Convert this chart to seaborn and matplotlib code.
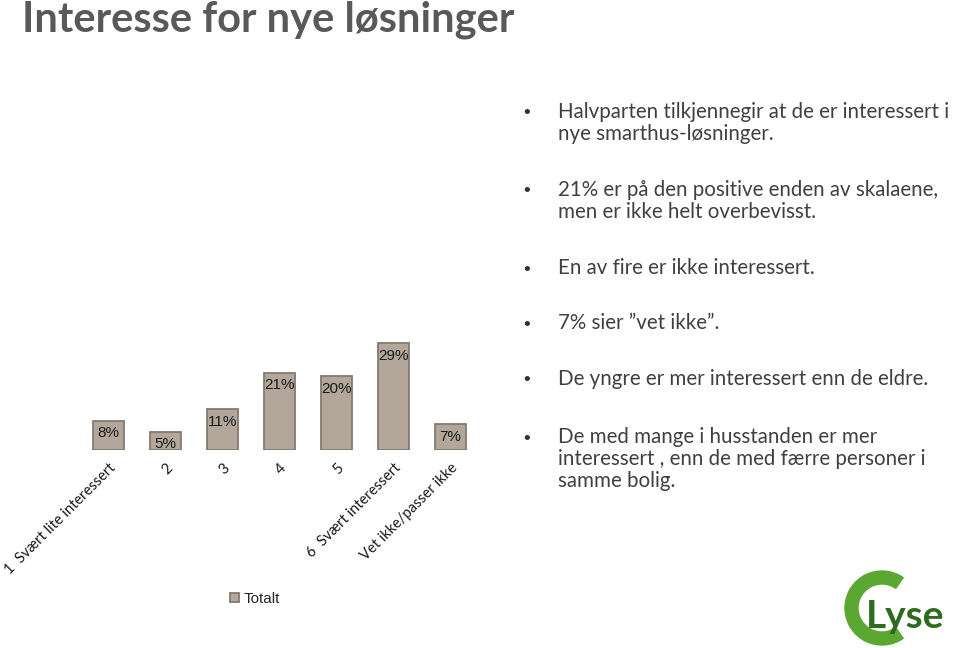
import matplotlib
matplotlib.use("Agg")
import matplotlib.pyplot as plt
from matplotlib.patches import Wedge
import seaborn as sns
import pandas as pd

categories = ["1  Svært lite interessert", "2", "3", "4", "5",
              "6  Svært interessert", "Vet ikke/passer ikke"]
values = [8, 5, 11, 21, 20, 29, 7]
series_name = "Totalt"
title = "Interesse for nye løsninger"
bullets = [
    "Halvparten tilkjennegir at de er interessert i\nnye smarthus-løsninger.",
    "21% er på den positive enden av skalaene,\nmen er ikke helt overbevisst.",
    "En av fire er ikke interessert.",
    "7% sier \u201dvet ikke\u201d.",
    "De yngre er mer interessert enn de eldre.",
    "De med mange i husstanden er mer\ninteressert , enn de med færre personer i\nsamme bolig.",
]
bullet_y = [114, 192, 270, 325, 381, 439]

sns.set_style("white")
plt.rcParams["font.family"] = ["Liberation Sans", "DejaVu Sans"]

frame = pd.DataFrame({"cat": categories, "val": values})

fig = plt.figure(figsize=(9.6, 6.48), dpi=100)
W, H = 960, 648
ax = fig.add_axes([80 / W, (H - 450) / H, 399 / W, 118 / H])
sns.barplot(data=frame, x="cat", y="val", ax=ax, color="#b3a79b",
            width=0.56, edgecolor="#857a70", linewidth=1.3, saturation=1)
ax.set_ylim(0, 32)
ax.set_xlim(-0.5, 6.5)
ax.set_xlabel("")
ax.set_ylabel("")
ax.set_yticks([])
sns.despine(ax=ax, left=True, bottom=True)

for p, v in zip(ax.patches, values):
    ax.annotate(f"{v}%", (p.get_x() + p.get_width() / 2, p.get_height()),
                xytext=(0, -4), textcoords="offset points",
                ha="center", va="top", fontsize=11, color="#1a1a1a")

ax.set_xticks(range(len(categories)))
ax.set_xticklabels(categories, rotation=45, ha="right", rotation_mode="anchor",
                   fontsize=10.5, family=["Lato", "DejaVu Sans"], color="#1a1a1a")
ax.tick_params(axis="x", length=0, pad=8)

fig.legend([ax.patches[0]], [series_name], loc="center left",
           bbox_to_anchor=(216 / W, 1 - 599 / H), frameon=False,
           fontsize=11, handlelength=0.6, handleheight=0.6, handletextpad=0.3)

fig.text(22 / W, 1 - 20 / H, title, fontsize=30, fontweight="bold",
         color="#595959", family=["Lato", "DejaVu Sans"], va="center")

for txt, y in zip(bullets, bullet_y):
    fig.text(527 / W, 1 - y / H, "\u2022", fontsize=14, color="#333333",
             va="center", ha="center")
    fig.text(558 / W, 1 - (y - 12) / H, txt, fontsize=14.8, color="#404040",
             va="top", family=["Lato", "DejaVu Sans"], linespacing=1.12)

# logo
lax = fig.add_axes([840 / W, 0, 120 / W, 90 / H])
lax.set_xlim(0, 120)
lax.set_ylim(0, 90)
lax.axis("off")
lax.add_patch(Wedge((42, 40), 37, 55, 305, width=13, color="#5aa832"))
lax.text(26, 32, "Lyse", fontsize=28, fontweight="bold", color="#2e6b1e",
         family=["Lato", "DejaVu Sans"], va="center")

fig.savefig("out.png", dpi=100)
